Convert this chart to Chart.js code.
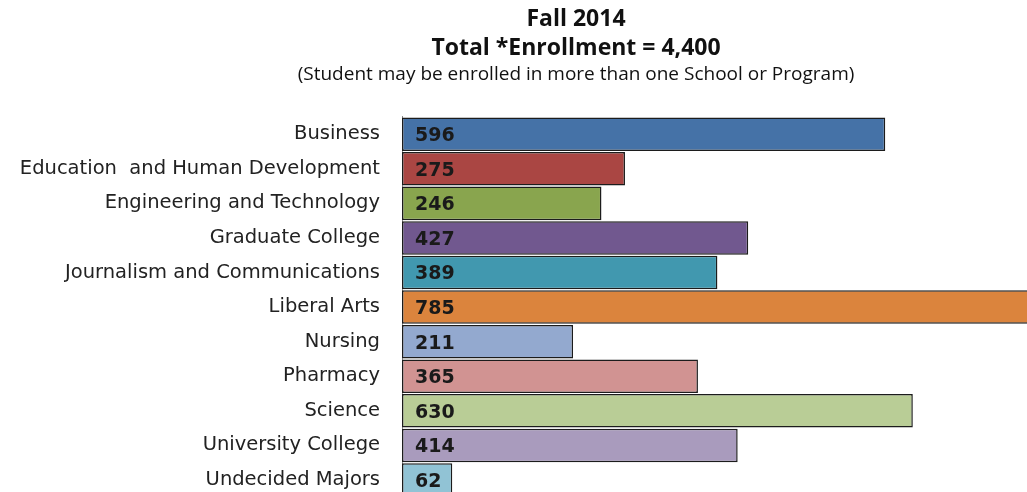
<!DOCTYPE html>
<html>
<head>
<meta charset="utf-8">
<script src="https://cdn.jsdelivr.net/npm/chart.js@4.4.1/dist/chart.umd.min.js"></script>
<style>
  html, body { margin: 0; padding: 0; overflow: hidden; background: #fff; }
  #wrap { width: 1027px; height: 492px; overflow: hidden; }
  #mychart { width: 1152px; height: 531px; display: block; }
</style>
</head>
<body>
<div id="wrap"><canvas id="mychart" width="1152" height="531"></canvas></div>
<script>
var schools = ["Business", "Education  and Human Development", "Engineering and Technology",
    "Graduate College", "Journalism and Communications", "Liberal Arts", "Nursing",
    "Pharmacy", "Science", "University College", "Undecided Majors"]
var enrolled = [596, 275, 246, 427, 389, 785, 211, 365, 630, 414, 62]
var colors = ["#4572A7", "#AA4643", "#89A54E", "#71588F", "#4198AF", "#DB843D",
    "#93A9CF", "#D19392", "#B9CD96", "#A99BBD", "#91C3D5"]
var titleLines = ["Fall 2014", "Total *Enrollment = 4,400"]
var subTitle = "(Student may be enrolled in more than one School or Program)"

// draw the numbers inside each bar, near the axis
var barValues = {
    id: 'barValues',
    afterDatasetsDraw: function(chart) {
        var ctx = chart.ctx
        var meta = chart.getDatasetMeta(0)
        ctx.save()
        ctx.font = "bold 19px 'DejaVu Sans'"
        ctx.fillStyle = "#1a1a1a"
        ctx.textBaseline = "middle"
        ctx.textAlign = "left"
        meta.data.forEach(function(bar, i) {
            ctx.fillText(enrolled[i], bar.base + 13, bar.y + 2)
        })
        ctx.restore()
    }
}

var mychart = document.getElementById("mychart").getContext('2d')

var chart = new Chart(mychart, {
    type: 'bar',
    data: {
        labels: schools,
        datasets: [{
            data: enrolled,
            backgroundColor: colors,
            borderColor: "#1c1c1c",
            borderWidth: 1.5,
            borderSkipped: false,
            categoryPercentage: 1.0,
            barPercentage: 0.97
        }]
    },
    options: {
        indexAxis: 'y',
        responsive: false,
        maintainAspectRatio: false,
        animation: false,
        layout: { padding: { top: 0, bottom: 3, left: 0, right: 0 } },
        scales: {
            x: {
                display: false,
                min: 0,
                max: 925
            },
            y: {
                afterFit: function(scale) { scale.width = 402 },
                grid: { display: false, drawTicks: false },
                border: { display: true, color: "#8c8c8c", width: 1 },
                ticks: {
                    padding: 22,
                    color: "#222",
                    font: { family: "'DejaVu Sans'", size: 19.5 }
                }
            }
        },
        plugins: {
            legend: { display: false },
            tooltip: { enabled: false },
            title: {
                display: true,
                text: titleLines,
                color: "#111",
                font: { family: "'Open Sans'", size: 23, weight: 'bold', lineHeight: 1.25 },
                padding: { top: 5, bottom: 0 }
            },
            subtitle: {
                display: true,
                text: subTitle,
                color: "#111",
                font: { family: "'Open Sans'", size: 19, lineHeight: 1.1 },
                padding: { top: 2, bottom: 31.5 }
            }
        }
    },
    plugins: [barValues]
})
</script>
</body>
</html>
